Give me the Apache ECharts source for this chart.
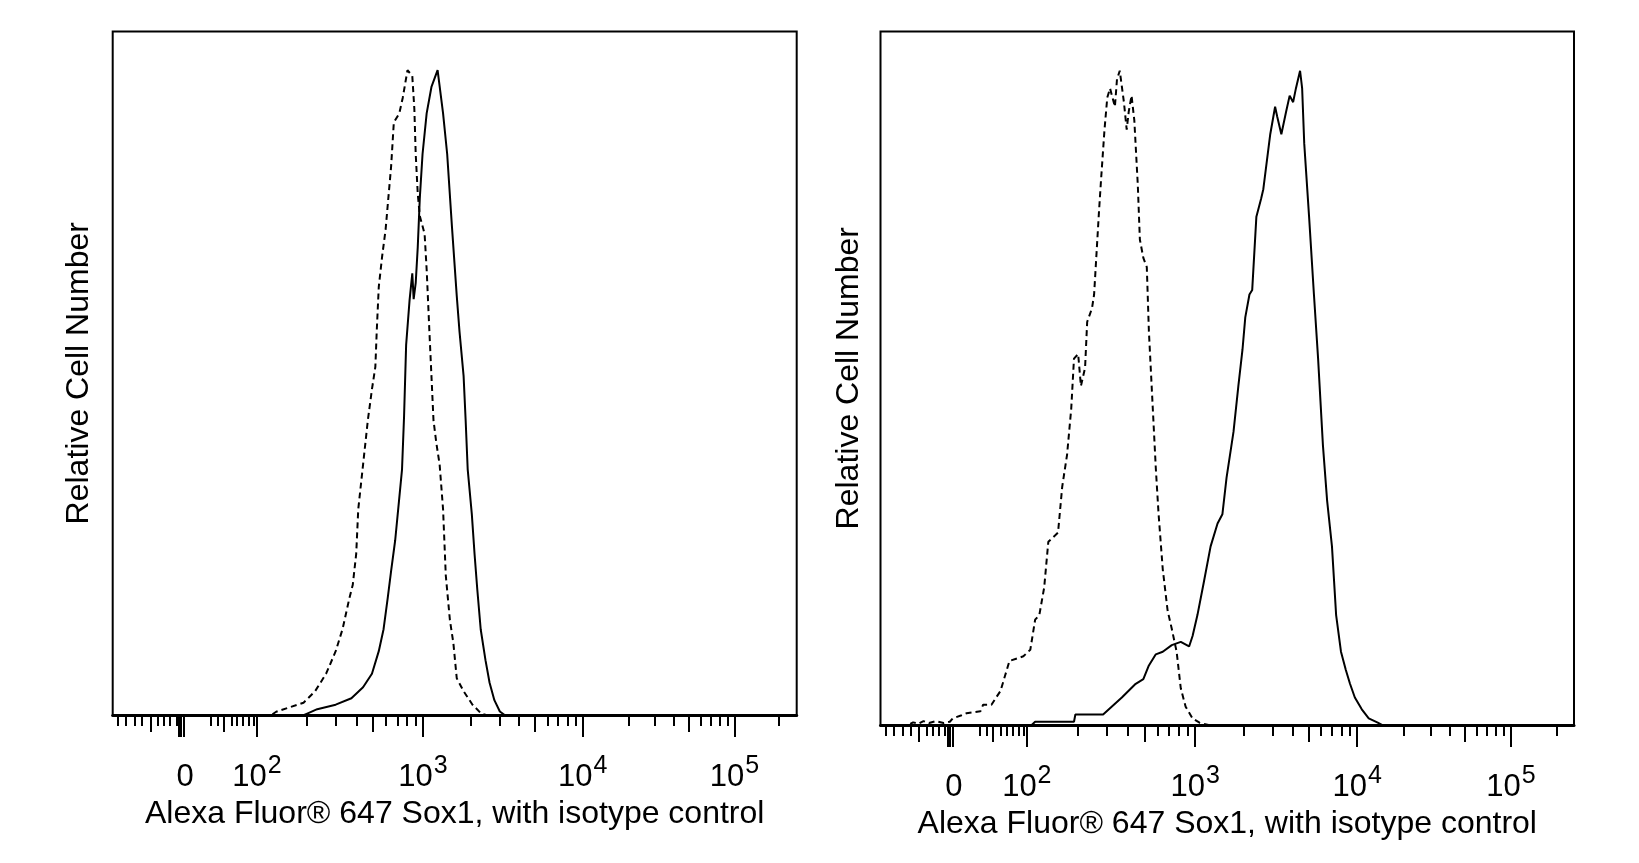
<!DOCTYPE html>
<html><head><meta charset="utf-8">
<script src="https://cdn.jsdelivr.net/npm/echarts@6/dist/echarts.min.js"></script>
<style>html,body{margin:0;padding:0;background:#fff}#c{width:1639px;height:863px}</style>
</head><body><div id="c"></div>
<script>
// x: display channel (0-1000) of the biexponential fluorescence axis; y: cells, % of mode
const leftSox1 = [[0,0],[280,0],[286,0.3],[299,0.9],[326,1.6],[349,2.6],[366,4.3],[379,6.4],[389,9.9],[396,13.3],[402,18.1],[407,22.3],[413,27.1],[418,32.6],[423,38.1],[426,46.4],[429,57.4],[434,64.3],[438,68.5],[440,64.5],[443,67],[446,72.6],[449,80.2],[453,87],[459,93.3],[466,97.4],[475,100],[483,93.3],[489,87],[496,75.7],[503,65],[507,59.5],[513,52.6],[516,45.7],[519,38.1],[525,31.2],[529,25],[533,19.5],[538,13.3],[545,8.5],[551,5],[558,2.3],[566,0.55],[573,0],[1000,0]];
const leftIsotype = [[0,0],[232,0],[239,0.5],[259,1.2],[279,1.9],[296,3.7],[312,6.4],[326,9.9],[336,13.3],[346,18.1],[351,20.2],[356,25],[359,31.9],[366,38.8],[373,45.7],[379,50.5],[384,54],[386,59.5],[389,66.4],[394,71.2],[399,75.3],[403,80.2],[407,85],[411,91.9],[419,93.3],[424,95.7],[431,100],[438,99.1],[441,94],[443,87],[446,80.8],[449,77.4],[456,74.6],[459,69.1],[463,59.5],[466,52.6],[469,45.7],[473,42.3],[478,38.8],[483,31.9],[487,21.6],[493,14.7],[498,11.2],[503,5.7],[513,3.7],[526,1.6],[539,0.2],[546,0],[1000,0]];
const rightSox1 = [[0,0],[218,0],[223,0.5],[279,0.5],[281,1.6],[321,1.6],[348,4.2],[368,6.3],[379,7.0],[387,9.1],[397,10.8],[407,11.2],[420,12.2],[433,12.7],[445,12.0],[450,13.6],[457,16.8],[466,21.7],[476,27.3],[486,30.8],[493,32.2],[499,37.8],[506,42.7],[509,44.8],[516,51.8],[522,57.4],[526,62.3],[532,65.8],[536,66.5],[542,77.7],[549,80.5],[552,81.9],[557,86.1],[562,90.3],[569,94.5],[572,93],[578,90.3],[585,93.8],[590,96.2],[595,95.2],[599,97.3],[605,100],[608,97.3],[611,88.9],[618,77.7],[625,65.8],[631,56],[638,42.7],[644,34.3],[651,27.3],[657,16.8],[664,11.2],[671,8.4],[677,6.3],[684,4.2],[694,2.4],[704,1],[717,0.35],[723,0],[1000,0]];
const rightIsotype = [[0,0],[40,0],[47,0.4],[55,0.2],[62,0.6],[70,0.3],[80,0.6],[91,0.3],[100,0.5],[104,1.0],[117,1.5],[124,1.8],[144,2.1],[148,3.1],[160,3.1],[173,5.2],[186,9.8],[206,10.5],[216,11.5],[223,16.1],[229,16.8],[236,21],[242,28],[249,28.7],[256,29.4],[262,36.4],[269,41.3],[275,48.3],[279,56],[285,56.7],[289,51.8],[295,54.6],[298,61.6],[305,63.7],[308,65.8],[315,78.4],[318,83.3],[323,91],[327,95.9],[331,97.3],[338,94.5],[341,98.7],[345,100],[351,95.2],[355,91],[358,93.8],[362,96.2],[366,92.4],[371,82.6],[374,74.2],[379,71.4],[384,70],[387,60.2],[391,51.8],[394,45.5],[397,39.2],[401,32.2],[407,23.8],[414,17.5],[420,14.7],[427,11.2],[433,5.6],[440,2.8],[450,1],[460,0.35],[473,0],[1000,0]];

// axis definition: intensity anchors -> display channel
const scaleIntensity = [0, 100, 1000, 10000, 100000, 262144];
const scaleChannel = [100, 211, 453.7, 687.3, 909, 1000];
const decadeIntensity = [0, 100, 1000, 10000, 100000];
const decadeLabels = ['0', '10^2', '10^3', '10^4', '10^5'];
const lowMinorChannels = [7, 19, 32, 43, 66, 75, 84, 93, 143, 153.5, 173.7, 182, 190.8, 199, 206.3];
const lowMediumChannels = [55, 161.7];
const zeroClusterChannels = [96.5, 103.5];

const xTitle = 'Alexa Fluor® 647 Sox1, with isotype control';
const yTitle = 'Relative Cell Number';

function toChannel(v) {
  if (v <= 0) return scaleChannel[0];
  for (let i = 1; i < scaleIntensity.length - 1; i++) {
    const a = scaleIntensity[i], b = scaleIntensity[i + 1];
    if (v <= b) {
      const t = (Math.log10(v) - Math.log10(a)) / (Math.log10(b) - Math.log10(a));
      return scaleChannel[i] + t * (scaleChannel[i + 1] - scaleChannel[i]);
    }
  }
  return scaleChannel[scaleChannel.length - 1];
}
const majorCh = decadeIntensity.map(toChannel);
const minorCh = lowMinorChannels.slice();
const mediumCh = lowMediumChannels.slice();
[100, 1000, 10000].forEach(d => {
  for (let m = 2; m <= 9; m++) (m === 5 ? mediumCh : minorCh).push(toChannel(m * d));
});
minorCh.push(toChannel(200000));

function labelFmt(v) {
  let best = 0;
  majorCh.forEach((c, i) => { if (Math.abs(c - v) < Math.abs(majorCh[best] - v)) best = i; });
  const s = decadeLabels[best];
  if (s.indexOf('^') < 0) return '{z|' + s + '}';
  const p = s.split('^');
  return '{b|' + p[0] + '}{s|' + p[1] + '}';
}

const FONT = 'Liberation Sans, Arial, sans-serif';
const grids = [
  { left: 112.7, top: 31.5, width: 684, height: 683.5 },
  { left: 880.5, top: 31.5, width: 693.5, height: 693.5 }
];
const yNameGaps = [18, 15.5];
const dataSets = [[leftSox1, leftIsotype], [rightSox1, rightIsotype]];

const xAxis = [], yAxis = [], series = [];
grids.forEach((g, gi) => {
  const base = { type: 'value', gridIndex: gi, min: 0, max: 1000, position: 'bottom', splitLine: { show: false } };
  xAxis.push(Object.assign({}, base, {
    axisLine: { show: true, lineStyle: { color: '#000', width: 3 } },
    axisTick: { show: true, customValues: majorCh.concat(zeroClusterChannels), length: 22, lineStyle: { color: '#000', width: 2 } },
    axisLabel: {
      show: true, customValues: majorCh, formatter: labelFmt, margin: 28,
      rich: {
        b: { fontFamily: FONT, fontSize: 31, color: '#000', lineHeight: 50, verticalAlign: 'bottom' },
        s: { fontFamily: FONT, fontSize: 25, color: '#000', lineHeight: 25, verticalAlign: 'bottom', padding: [0, 0, 14, 1] },
        z: { fontFamily: FONT, fontSize: 31, color: '#000', lineHeight: 50, verticalAlign: 'bottom', padding: [0, 0, 0, 8] }
      }
    },
    name: xTitle, nameLocation: 'middle', nameGap: 72,
    nameTextStyle: { fontFamily: FONT, fontSize: 32, color: '#000' }
  }));
  xAxis.push(Object.assign({}, base, {
    axisLine: { show: false },
    axisTick: { show: true, customValues: minorCh, length: 11, lineStyle: { color: '#000', width: 2 } },
    axisLabel: { show: false }
  }));
  xAxis.push(Object.assign({}, base, {
    axisLine: { show: false },
    axisTick: { show: true, customValues: mediumCh, length: 17, lineStyle: { color: '#000', width: 2 } },
    axisLabel: { show: false }
  }));
  yAxis.push({
    type: 'value', gridIndex: gi, min: 0, max: 106,
    axisLine: { show: false }, axisTick: { show: false }, axisLabel: { show: false }, splitLine: { show: false },
    name: yTitle, nameLocation: 'middle', nameRotate: 90, nameGap: yNameGaps[gi],
    nameTextStyle: { fontFamily: FONT, fontSize: 32, color: '#000' }
  });
  const [sox, iso] = dataSets[gi];
  series.push({
    type: 'line', xAxisIndex: gi * 3, yAxisIndex: gi, data: iso, symbol: 'none', smooth: false,
    lineStyle: { color: '#000', width: 2, type: [6, 4] }, z: 3
  });
  series.push({
    type: 'line', xAxisIndex: gi * 3, yAxisIndex: gi, data: sox, symbol: 'none', smooth: false,
    lineStyle: { color: '#000', width: 2, type: 'solid' }, z: 4
  });
});

const chart = echarts.init(document.getElementById('c'), null, { renderer: 'canvas' });
chart.setOption({
  animation: false,
  backgroundColor: '#fff',
  grid: grids.map(g => Object.assign({ show: true, borderColor: '#000', borderWidth: 2, backgroundColor: 'transparent' }, g)),
  xAxis, yAxis, series
});
</script></body></html>
